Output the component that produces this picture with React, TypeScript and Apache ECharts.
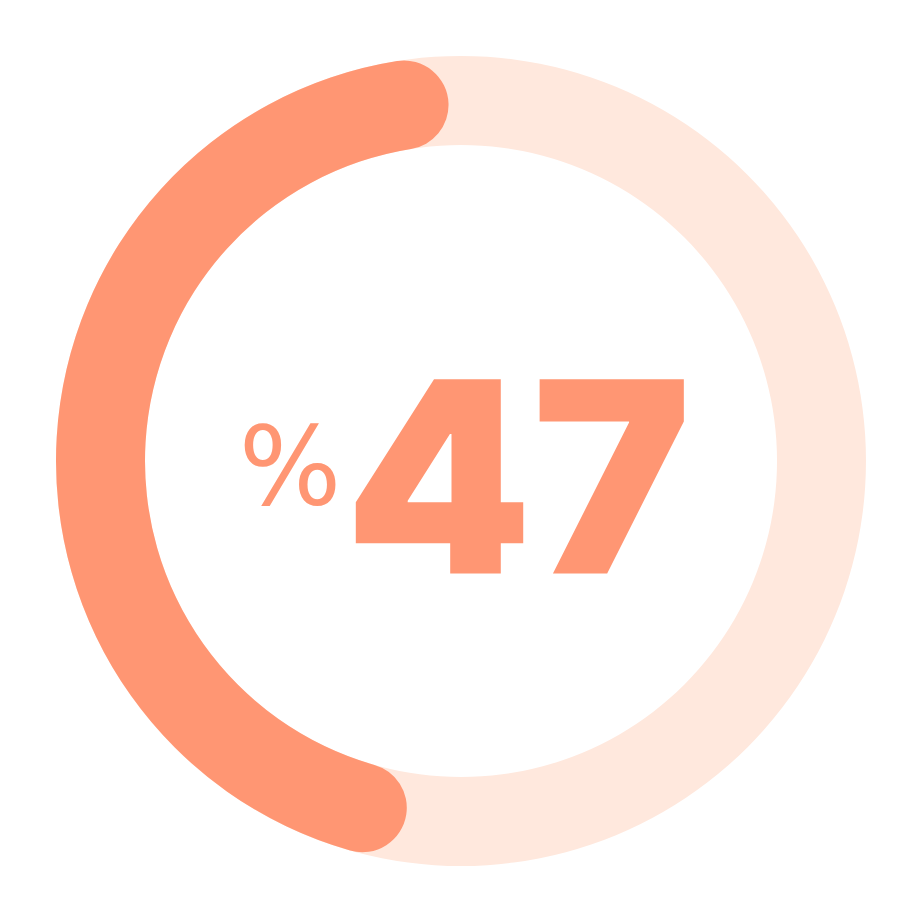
import { useEffect, useRef } from 'react'
import * as echarts from 'echarts'

// share of the goal reached, in percent
const progressValues = [47]
const totalValue = 100
const sliceNames = ['done', 'rest']

const mainColor = '#FF9673'
const trackColor = '#FFE8DD'

export default function App() {
  const chartRef = useRef<HTMLDivElement>(null)

  useEffect(() => {
    if (!chartRef.current) return
    const chart = echarts.init(chartRef.current, undefined, { renderer: 'svg' })

    const done = progressValues[0]
    const rest = totalValue - done

    const option = {
      animation: false,
      series: [
        {
          // background track
          type: 'pie',
          silent: true,
          center: [461, 461],
          radius: [316, 405],
          label: { show: false },
          labelLine: { show: false },
          itemStyle: { color: trackColor },
          data: [{ name: 'track', value: totalValue }]
        },
        {
          type: 'pie',
          silent: true,
          center: [461, 461],
          radius: [316, 405],
          startAngle: 92,
          clockwise: false,
          label: { show: false },
          labelLine: { show: false },
          itemStyle: { borderRadius: 45 },
          data: [
            { name: sliceNames[0], value: done, itemStyle: { color: mainColor } },
            { name: sliceNames[1], value: rest, itemStyle: { color: 'transparent' } }
          ]
        }
      ],
      graphic: [
        {
          type: 'text',
          style: {
            text: '%',
            x: 290,
            y: 466,
            fill: mainColor,
            font: 'normal 400 108px "DejaVu Sans"',
            textAlign: 'center',
            textVerticalAlign: 'middle'
          }
        },
        {
          type: 'text',
          style: {
            text: String(done),
            x: 518,
            y: 476,
            fill: mainColor,
            font: 'normal 900 267px Inter',
            textAlign: 'center',
            textVerticalAlign: 'middle'
          }
        }
      ]
    }

    chart.setOption(option)

    return () => {
      chart.dispose()
    }
  }, [])

  return (
    <div
      ref={chartRef}
      style={{ position: 'absolute', left: 0, top: 0, width: 923, height: 923, background: '#fff' }}
    />
  )
}
